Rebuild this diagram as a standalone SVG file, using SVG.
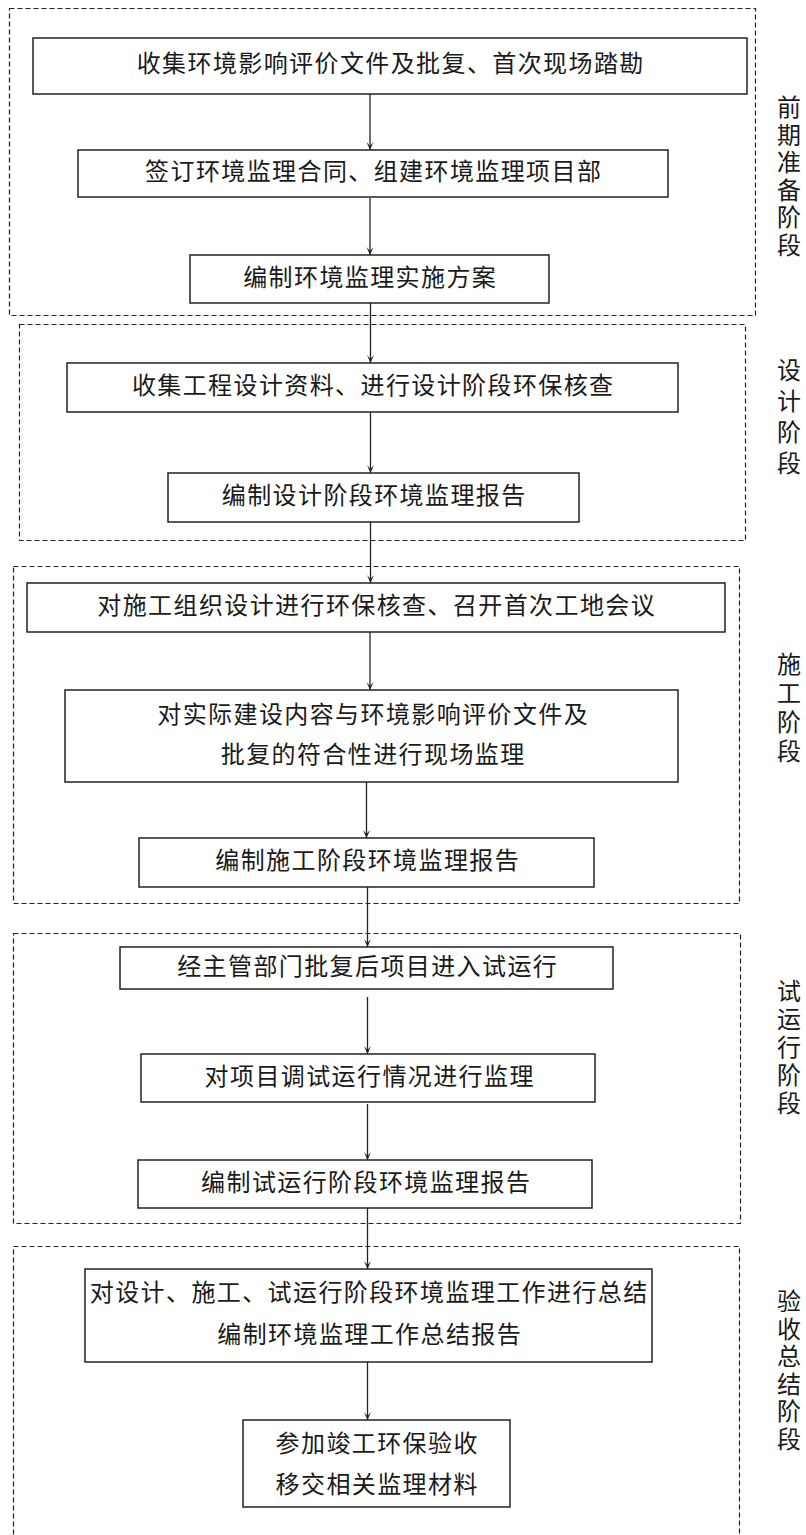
<svg xmlns="http://www.w3.org/2000/svg" width="806" height="1535" viewBox="0 0 806 1535">
<style>
  .bg{fill:#ffffff}
  .stage{fill:none;stroke:#222;stroke-width:1.2;stroke-dasharray:5 3}
  .box{fill:#ffffff;stroke:#222;stroke-width:1.5}
  .t{font-family:"Liberation Serif","Noto Sans CJK SC",serif;font-size:24px;fill:#1a1a1a;text-anchor:middle;dominant-baseline:central;letter-spacing:1.4px}
  .side{font-family:"Liberation Serif","Noto Sans CJK SC",serif;font-size:24px;fill:#1a1a1a;text-anchor:middle;dominant-baseline:central}
  .conn{stroke:#222;stroke-width:1.3;fill:none;marker-end:url(#arrv)}
</style>
<defs>
  <marker id="arrv" viewBox="0 0 10 10" refX="5" refY="10" markerWidth="10" markerHeight="10" markerUnits="userSpaceOnUse">
    <path d="M1.5,2 L5,10 L8.5,2 L5,6 Z" fill="#222"/>
  </marker>
</defs>
<rect class="bg" x="0" y="0" width="806" height="1535"/>

<g id="stages">
  <g id="stage1"><rect class="stage" x="9.5" y="8.5" width="746" height="307"/>
    <text class="side" x="789" y="108">前</text><text class="side" x="789" y="135.5">期</text><text class="side" x="789" y="163">准</text><text class="side" x="789" y="190.5">备</text><text class="side" x="789" y="218">阶</text><text class="side" x="789" y="245.5">段</text></g>
  <g id="stage2"><rect class="stage" x="19.5" y="324.5" width="726" height="216"/>
    <text class="side" x="789" y="371">设</text><text class="side" x="789" y="402">计</text><text class="side" x="789" y="433">阶</text><text class="side" x="789" y="464">段</text></g>
  <g id="stage3"><rect class="stage" x="13.5" y="566.5" width="726" height="337"/>
    <text class="side" x="789" y="665">施</text><text class="side" x="789" y="694">工</text><text class="side" x="789" y="723">阶</text><text class="side" x="789" y="752">段</text></g>
  <g id="stage4"><rect class="stage" x="13.5" y="933.5" width="727" height="290"/>
    <text class="side" x="789" y="992">试</text><text class="side" x="789" y="1020">运</text><text class="side" x="789" y="1048">行</text><text class="side" x="789" y="1076">阶</text><text class="side" x="789" y="1104">段</text></g>
  <g id="stage5"><rect class="stage" x="13.5" y="1246.5" width="726" height="310"/>
    <text class="side" x="789" y="1302">验</text><text class="side" x="789" y="1329.5">收</text><text class="side" x="789" y="1357">总</text><text class="side" x="789" y="1384.5">结</text><text class="side" x="789" y="1412">阶</text><text class="side" x="789" y="1439.5">段</text></g>
</g>

<g id="connectors">
  <line class="conn" x1="370" y1="94" x2="370" y2="150"/>
  <line class="conn" x1="370" y1="198" x2="370" y2="255"/>
  <line class="conn" x1="370.5" y1="303" x2="370.5" y2="363"/>
  <line class="conn" x1="370.5" y1="412" x2="370.5" y2="473"/>
  <line class="conn" x1="370.5" y1="522" x2="370.5" y2="583"/>
  <line class="conn" x1="370" y1="632" x2="370" y2="690"/>
  <line class="conn" x1="366.5" y1="782" x2="366.5" y2="838"/>
  <line class="conn" x1="367.5" y1="887" x2="367.5" y2="947"/>
  <line class="conn" x1="367.5" y1="997" x2="367.5" y2="1054"/>
  <line class="conn" x1="367.5" y1="1104" x2="367.5" y2="1160"/>
  <line class="conn" x1="367.5" y1="1208" x2="367.5" y2="1269"/>
  <line class="conn" x1="367.5" y1="1362" x2="367.5" y2="1420"/>
</g>

<g id="n1"><rect class="box" x="33" y="38" width="714" height="56"/><text class="t" x="390.7" y="64">收集环境影响评价文件及批复、首次现场踏勘</text></g>
<g id="n2"><rect class="box" x="78" y="150" width="590" height="47"/><text class="t" x="373.7" y="172">签订环境监理合同、组建环境监理项目部</text></g>
<g id="n3"><rect class="box" x="190" y="255" width="359" height="48"/><text class="t" x="370.2" y="277.5">编制环境监理实施方案</text></g>
<g id="n4"><rect class="box" x="67" y="363" width="611" height="49"/><text class="t" x="373.2" y="386">收集工程设计资料、进行设计阶段环保核查</text></g>
<g id="n5"><rect class="box" x="168" y="473" width="411" height="49"/><text class="t" x="374.2" y="496">编制设计阶段环境监理报告</text></g>
<g id="n6"><rect class="box" x="27" y="583" width="698" height="49"/><text class="t" x="376.7" y="606">对施工组织设计进行环保核查、召开首次工地会议</text></g>
<g id="n7"><rect class="box" x="65" y="690" width="613" height="92"/><text class="t" x="373.2" y="715">对实际建设内容与环境影响评价文件及</text><text class="t" x="373.2" y="755">批复的符合性进行现场监理</text></g>
<g id="n8"><rect class="box" x="139" y="838" width="455" height="49"/><text class="t" x="367.7" y="861">编制施工阶段环境监理报告</text></g>
<g id="n9"><rect class="box" x="120" y="947" width="493" height="42"/><text class="t" x="367.7" y="967">经主管部门批复后项目进入试运行</text></g>
<g id="n10"><rect class="box" x="141" y="1054" width="454" height="48"/><text class="t" x="369.7" y="1077">对项目调试运行情况进行监理</text></g>
<g id="n11"><rect class="box" x="138" y="1160" width="454" height="48"/><text class="t" x="366.2" y="1183">编制试运行阶段环境监理报告</text></g>
<g id="n12"><rect class="box" x="85" y="1269" width="567" height="93"/><text class="t" x="369.2" y="1293">对设计、施工、试运行阶段环境监理工作进行总结</text><text class="t" x="369.7" y="1335">编制环境监理工作总结报告</text></g>
<g id="n13"><rect class="box" x="243" y="1420" width="267" height="87"/><text class="t" x="377.2" y="1444">参加竣工环保验收</text><text class="t" x="377.2" y="1485">移交相关监理材料</text></g>
</svg>
